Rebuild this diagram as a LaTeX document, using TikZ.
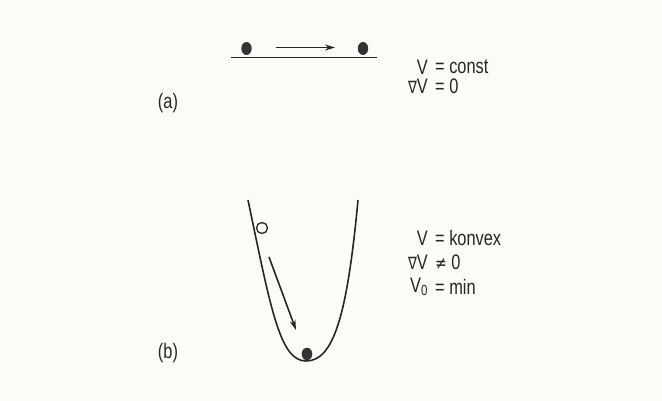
\documentclass[tikz,border=0pt]{standalone}
\usepackage{fontspec}
\setmainfont{Liberation Sans}
\newfontfamily\symfont{DejaVu Sans}
\usetikzlibrary{arrows.meta}
\begin{document}
\begin{tikzpicture}[x=1pt,y=-1pt,
  ink/.style={line width=1.6pt,draw=black!85},
  lbl/.style={inner sep=0pt,font=\fontsize{21}{23}\selectfont,text=black!85,xscale=0.78},
  arr/.style={ink,-{Stealth[length=10pt,width=6pt]}},
  ball/.style={fill=black!80,draw=none}]
\fill[fill={rgb,255:red,252;green,252;blue,247}] (0,0) rectangle (662,401);
\useasboundingbox (0,0) rectangle (662,401);
% (a)
\coordinate (gl) at (231,57.5);
\coordinate (gr) at (377,57.5);
\draw[ink] (gl) -- (gr);
\fill[ball] (246.5,48.5) ellipse [x radius=5.2, y radius=6.5];
\fill[ball] (363,48.5) ellipse [x radius=5.2, y radius=6.5];
\coordinate (a1) at (276,47.5);
\coordinate (a2) at (335,47.5);
\draw[arr] (a1) -- (a2);
\node[lbl,anchor=east] (v1) at (428,67) {V};
\node[lbl,anchor=west] (c1) at (435,67) {= const};
\node[lbl,anchor=east] (g1) at (428,86) {{\symfont\fontsize{17}{18}\selectfont ∇}V};
\node[lbl,anchor=west] (z1) at (435,86) {= 0};
\node[lbl,anchor=center] (la) at (168,103) {(a)};
% (b)
\coordinate (pl) at (248,200);
\coordinate (pb) at (306,361);
\coordinate (pr) at (358,200);
\draw[ink] (pl) .. controls (271,310) and (280,361) .. (pb)
  .. controls (333,361) and (347,318) .. (pr);
\node[draw=black!85,line width=1.3pt,circle,minimum size=11pt,inner sep=0pt] (hb) at (262,228) {};
\fill[ball] (307,354) ellipse [x radius=5.3, y radius=6.3];
\coordinate (b1) at (269,257);
\coordinate (b2) at (296,330);
\draw[arr] (b1) -- (b2);
\node[lbl,anchor=east] (v2) at (428,238) {V};
\node[lbl,anchor=west] (c2) at (435,238) {= konvex};
\node[lbl,anchor=east] (g2) at (428,262) {{\symfont\fontsize{17}{18}\selectfont ∇}V};
\node[lbl,anchor=west] (z2) at (435,262) {{\symfont\fontsize{18}{19}\selectfont ≠} 0};
\node[lbl,anchor=east] (v3) at (428,287) {V\textsubscript{0}};
\node[lbl,anchor=west] (m3) at (435,287) {= min};
\node[lbl,anchor=center] (lb) at (168,353) {(b)};
\end{tikzpicture}
\end{document}
